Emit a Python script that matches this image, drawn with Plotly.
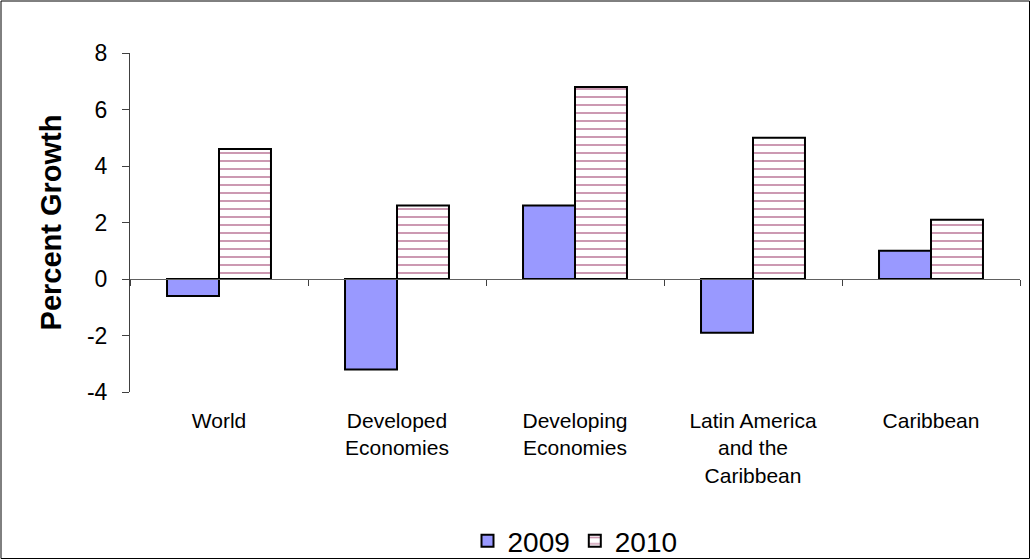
import plotly.graph_objects as go

categories = ["World", "Developed<br>Economies", "Developing<br>Economies",
              "Latin America<br>and the<br>Caribbean", "Caribbean"]
growth_2009 = [-0.6, -3.2, 2.6, -1.9, 1.0]
growth_2010 = [4.6, 2.6, 6.8, 5.0, 2.1]
series_names = ["2009", "2010"]
y_ticks = [-4, -2, 0, 2, 4, 6, 8]
y_tick_labels = ["-4", "-2", "0", "2", "4", "6", "8"]

W, H = 1031, 560
L, R, T, B = 130, 11, 53, 168
pw, ph = W - L - R, H - T - B

fig = go.Figure()
fig.add_trace(go.Bar(
    x=categories, y=growth_2009, name=series_names[0],
    marker=dict(color="#9999FF", line=dict(color="black", width=2)),
))
fig.add_trace(go.Bar(
    x=categories, y=growth_2010, name=series_names[1],
    marker=dict(color="white", line=dict(color="black", width=2),
                pattern=dict(shape="-", fgcolor="#993366", bgcolor="white",
                             size=8, solidity=0.25, fillmode="overlay")),
))

font = "Arial, Liberation Sans, sans-serif"

fig.update_layout(
    width=W, height=H,
    margin=dict(l=L, r=R, t=T, b=B, autoexpand=False),
    paper_bgcolor="white", plot_bgcolor="white",
    barmode="group", bargap=0.416, bargroupgap=0,
    font=dict(family=font, color="black"),
    showlegend=True,
    legend=dict(orientation="h", x=0.5, xanchor="center", y=(T + ph - 541) / ph,
                yanchor="middle", font=dict(size=28), itemwidth=30,
                bgcolor="rgba(0,0,0,0)"),
    xaxis=dict(type="category", showline=False, ticks="", showgrid=False,
               zeroline=False, tickfont=dict(size=21), ticklabelstandoff=14,
               range=[-0.5, 4.5]),
    yaxis=dict(range=[-4, 8], tickvals=y_ticks, ticktext=y_tick_labels,
               showgrid=False, zeroline=False,
               showline=True, linecolor="#404040", linewidth=1,
               ticks="outside", ticklen=7, tickcolor="#404040",
               tickfont=dict(size=23), ticklabelstandoff=10,
               title=dict(text="<b>Percent Growth</b>", font=dict(size=29),
                          standoff=16)),
    xaxis2=dict(overlaying="x", anchor="free", position=4 / 12, range=[0, 5],
                tickvals=[0, 1, 2, 3, 4, 5], showticklabels=False,
                showline=True, linecolor="#606060", linewidth=1,
                ticks="outside", ticklen=6, tickcolor="#404040",
                showgrid=False, zeroline=False),
)

# invisible trace to activate xaxis2
fig.add_trace(go.Scatter(x=[0, 5], y=[0, 0], xaxis="x2", mode="lines",
                         line=dict(width=0), showlegend=False, hoverinfo="skip"))

# outer border of the chart
fig.add_shape(type="rect", xref="paper", yref="paper",
              x0=(1 - L) / pw, x1=(W - 1.5 - L) / pw,
              y0=-(B - 1.5) / ph, y1=(ph + T - 1) / ph,
              line=dict(color="black", width=1), layer="below")

fig.write_html("out.html")
